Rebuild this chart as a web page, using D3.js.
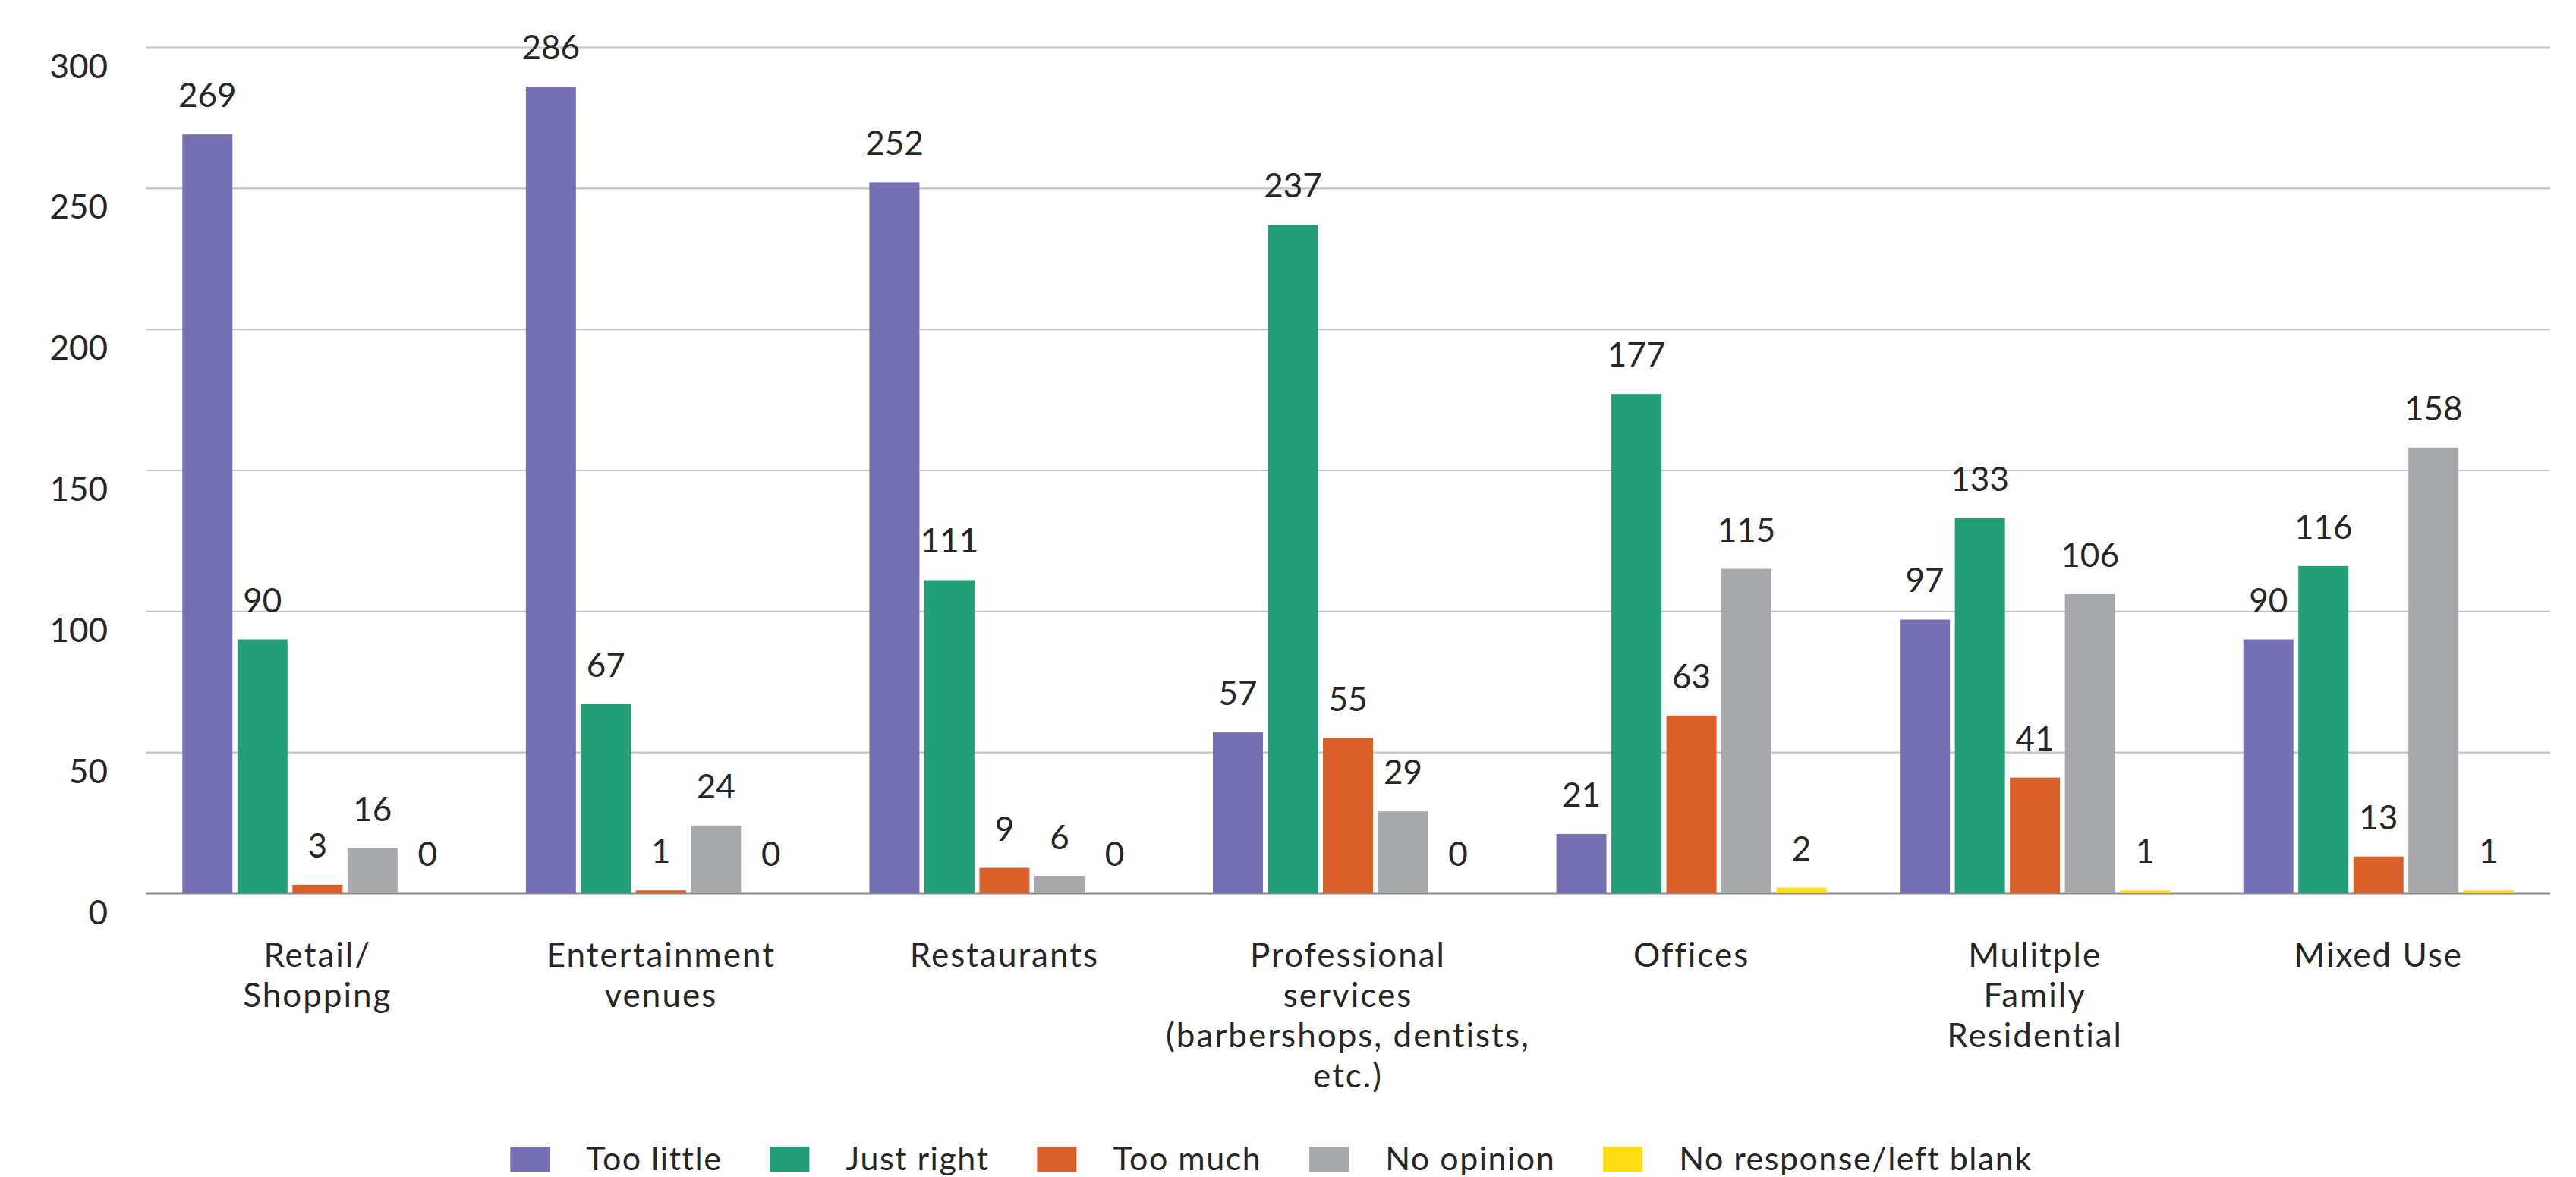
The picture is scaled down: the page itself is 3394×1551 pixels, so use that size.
<!DOCTYPE html>
<html>
<head>
<meta charset="utf-8">
<script src="https://cdn.jsdelivr.net/npm/d3@7"></script>
<style>
  body { margin: 0; background: #fff; }
  svg text { font-family: Lato, "Open Sans", sans-serif; fill: #262626; }
</style>
</head>
<body>
<script>
// chart data
var categories = ["Retail/\nShopping", "Entertainment\nvenues", "Restaurants",
  "Professional\nservices\n(barbershops, dentists,\netc.)", "Offices",
  "Mulitple\nFamily\nResidential", "Mixed Use"];
var seriesNames = ["Too little", "Just right", "Too much", "No opinion", "No response/left blank"];
var tooLittle  = [269, 286, 252, 57, 21, 97, 90];
var justRight  = [90, 67, 111, 237, 177, 133, 116];
var tooMuch    = [3, 1, 9, 55, 63, 41, 13];
var noOpinion  = [16, 24, 6, 29, 115, 106, 158];
var noResponse = [0, 0, 0, 0, 2, 1, 1];
var yTicks = [0, 50, 100, 150, 200, 250, 300];

var seriesValues = [tooLittle, justRight, tooMuch, noOpinion, noResponse];
var colors = ["#7570b3", "#229f78", "#d9602a", "#a7a8ab", "#ffdd15"];

// page / plot geometry
var svgWidth = 3394;
var svgHeight = 1551;
var plot = { left: 192, right: 3360, top: 62, bottom: 1177 };

var svg = d3.select("body")
  .append("svg")
  .attr("width", svgWidth)
  .attr("height", svgHeight);

// scales
var x0 = d3.scaleBand()
  .domain(categories)
  .range([plot.left, plot.right])
  .paddingInner(0.2134)
  .paddingOuter(0.1067);

var x1 = d3.scaleBand()
  .domain(seriesNames)
  .range([0, x0.bandwidth()])
  .paddingInner(0.09);

var y = d3.scaleLinear()
  .domain([0, 300])
  .range([plot.bottom, plot.top]);

// y axis + gridlines
var yAxis = svg.append("g")
  .attr("transform", `translate(${plot.left},0)`)
  .call(d3.axisLeft(y).tickValues(yTicks).tickSize(-(plot.right - plot.left)).tickPadding(50));

yAxis.select(".domain").remove();
yAxis.selectAll("line")
  .attr("stroke", d => d === 0 ? "#8c8c8c" : "#c4c4c4")
  .attr("stroke-width", 2.2);
yAxis.selectAll("text")
  .attr("dy", 40)
  .style("font-size", "44px")
  .style("fill", "#262626");

// x axis labels
var xAxis = svg.append("g")
  .attr("transform", `translate(0,${plot.bottom})`)
  .call(d3.axisBottom(x0).tickSize(0).tickFormat(""));
xAxis.select(".domain").remove();

xAxis.selectAll(".tick").append("text")
  .attr("text-anchor", "middle")
  .style("font-size", "44px")
  .style("letter-spacing", "2px")
  .style("fill", "#262626")
  .each(function(d) {
    var lines = d.split("\n");
    var t = d3.select(this);
    lines.forEach(function(line, i) {
      t.append("tspan")
        .attr("x", 0)
        .attr("y", 97 + i * 53)
        .text(line);
    });
  });

// bars
var groups = svg.selectAll(".group")
  .data(categories)
  .enter()
  .append("g")
  .attr("class", "group")
  .attr("transform", d => `translate(${x0(d)},0)`);

groups.selectAll("rect")
  .data((d, i) => seriesNames.map((s, j) => ({ series: s, idx: j, value: seriesValues[j][i] })))
  .enter()
  .append("rect")
  .attr("x", d => x1(d.series))
  .attr("y", d => y(d.value))
  .attr("width", x1.bandwidth())
  .attr("height", d => y(0) - y(d.value))
  .attr("fill", d => colors[d.idx]);

// value labels
groups.selectAll(".val")
  .data((d, i) => seriesNames.map((s, j) => ({ series: s, value: seriesValues[j][i] })))
  .enter()
  .append("text")
  .attr("class", "val")
  .attr("x", d => x1(d.series) + x1.bandwidth() / 2)
  .attr("y", d => y(d.value) - 36)
  .attr("text-anchor", "middle")
  .style("font-size", "44px")
  .text(d => d.value);

// legend
var legend = svg.append("g").attr("class", "legend");
var items = legend.selectAll(".item")
  .data(seriesNames)
  .enter()
  .append("g")
  .attr("class", "item");

items.append("rect")
  .attr("x", 0)
  .attr("y", 1511)
  .attr("width", 52)
  .attr("height", 33)
  .attr("fill", (d, i) => colors[i]);

items.append("text")
  .attr("x", 100)
  .attr("y", 1542)
  .style("font-size", "43px")
  .style("letter-spacing", "1.5px")
  .text(d => d);

var gap = 63;
var offset = 0;
var positions = [];
items.each(function() {
  var w = d3.select(this).select("text").node().getComputedTextLength();
  positions.push(offset);
  offset += 100 + w + gap;
});
var legendWidth = offset - gap;
var legendStart = 1675 - legendWidth / 2;
items.attr("transform", (d, i) => `translate(${legendStart + positions[i]},0)`);
</script>
</body>
</html>
